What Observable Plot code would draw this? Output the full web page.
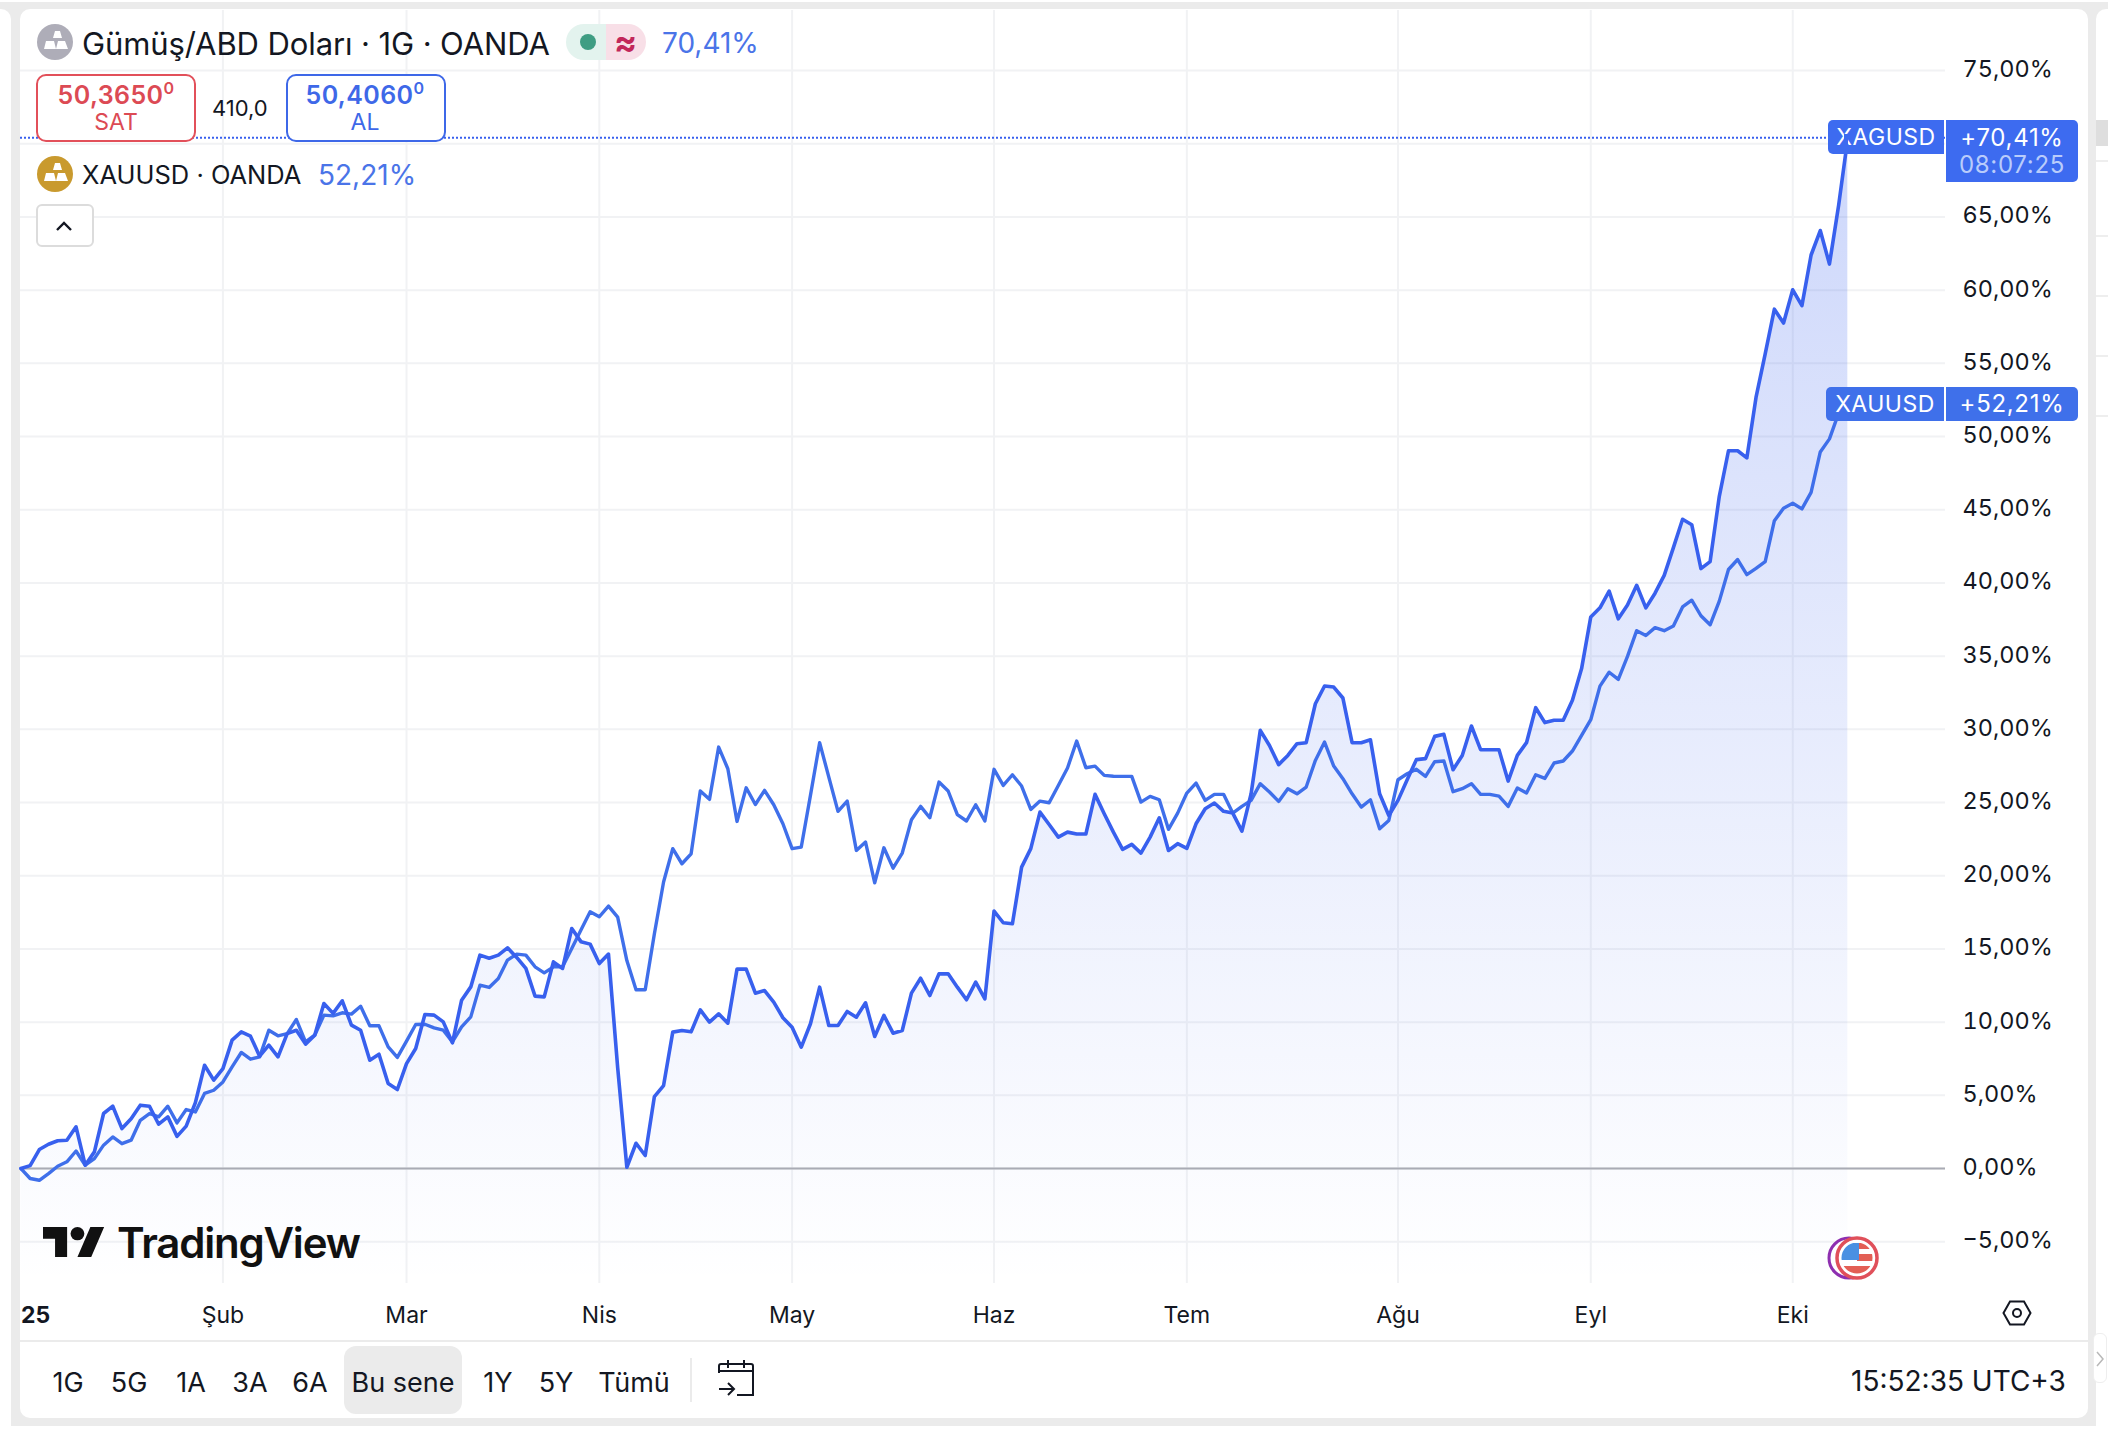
<!DOCTYPE html>
<html lang="tr">
<head>
<meta charset="utf-8">
<title>Gümüş/ABD Doları · XAUUSD</title>
<script src="https://cdn.jsdelivr.net/npm/d3@7"></script>
<script src="https://cdn.jsdelivr.net/npm/@observablehq/plot@0.6"></script>
<style>
html,body{margin:0;padding:0;width:2108px;height:1430px;overflow:hidden;background:#fff;font-family:Inter,"Noto Sans",sans-serif;color:#131722}
#page{position:relative;width:2108px;height:1430px;overflow:hidden}
.a{position:absolute;white-space:nowrap}
.t{position:absolute;white-space:nowrap;line-height:1;transform:translateY(-50%)}
#chart{position:absolute;left:0;top:0}
#chart svg{display:block}
.tag{position:absolute;background:#3d6bf0;color:#fff;white-space:nowrap;display:flex;align-items:center;justify-content:center;font-size:24px;letter-spacing:.7px}
.rng{position:absolute;transform:translate(-50%,-50%);line-height:1;font-size:27px;white-space:nowrap}
</style>
</head>
<body>
<div id="page">
  <div class="a" style="left:0;top:2px;width:2108px;height:1424px;background:#ebebeb"></div>
  <div class="a" style="left:0;top:9px;width:11px;height:1417px;background:#fff;border-radius:0 10px 0 0"></div>
  <div class="a" style="left:2096px;top:9px;width:12px;height:1417px;background:#fff;border-radius:10px 0 0 0"></div>
  <div class="a" style="left:2096px;top:120px;width:12px;height:26px;background:#dedede"></div>
  <div class="a" style="left:2096px;top:160px;width:12px;height:2px;background:#eeeeee"></div>
  <div class="a" style="left:2096px;top:235px;width:12px;height:2px;background:#eeeeee"></div>
  <div class="a" style="left:2096px;top:295px;width:12px;height:2px;background:#eeeeee"></div>
  <div class="a" style="left:2096px;top:355px;width:12px;height:2px;background:#eeeeee"></div>
  <div class="a" style="left:2096px;top:415px;width:12px;height:2px;background:#eeeeee"></div>
  <div class="a" style="left:20px;top:9px;width:2068px;height:1409px;background:#fff;border-radius:10px"></div>
  <div id="chart"></div>
  <div id="overlay"></div>
</div>
<script>
const seriesNames = ["XAGUSD", "XAUUSD"];
// Percentage change since the first bar of the year, one value per trading day
const silver = [0,0.2,1.3,1.66,1.9,1.93,2.85,0.23,1.14,3.76,4.26,2.73,3.4,4.33,4.26,3.03,3.53,2.2,2.9,4.5,
7.06,6.04,6.83,8.77,9.34,9.04,7.68,8.43,7.63,9.22,9.45,8.5,9.11,11.27,10.6,11.46,9.8,9.45,7.4,7.81,
5.81,5.4,7.17,8.2,10.52,10.48,10.02,8.59,11.5,12.41,14.58,14.37,14.58,15.08,14.42,13.67,11.78,11.73,14.12,13.67,
16.4,15.5,15.33,14.0,14.65,6.9,0.09,1.73,0.89,4.92,5.67,9.32,9.43,9.34,10.84,10.0,10.57,9.93,13.62,13.62,
11.98,12.16,11.37,10.3,9.66,8.29,9.89,12.39,9.77,9.77,10.73,10.34,11.32,9.02,10.46,9.25,9.43,11.98,13.0,11.82,
13.3,13.3,12.39,11.53,12.73,11.59,17.59,16.79,16.72,20.59,21.85,24.35,23.5,22.64,22.98,22.85,22.85,25.56,24.24,22.98,
21.8,22.14,21.55,22.64,23.96,21.73,22.19,21.87,23.55,24.58,24.97,24.4,24.28,23.05,25.6,29.93,28.9,27.59,28.22,29.02,
29.09,31.75,32.96,32.89,32.14,29.09,29.09,29.29,25.6,24.12,25.15,26.56,27.93,28.0,29.52,29.66,27.24,28.22,30.23,28.61,
28.61,28.61,26.47,28.22,29.09,31.48,30.46,30.62,30.62,31.98,34.15,37.68,38.3,39.44,37.55,38.49,39.84,38.3,39.3,40.52,
42.41,44.35,43.98,40.98,41.46,45.92,49.03,49.03,48.54,52.67,55.64,58.7,57.75,60.02,58.94,62.4,64.07,61.78,65.8,70.41];
const gold = [0,-0.68,-0.8,-0.34,0.16,0.46,1.2,0.23,0.68,1.6,2.16,1.7,1.94,3.3,3.76,3.53,4.26,3.12,4.03,3.87,
5.13,5.35,5.92,6.95,7.93,7.47,7.63,9.45,9.07,9.22,10.18,8.65,9.11,10.48,10.43,10.64,10.55,11.09,9.75,9.75,
8.31,7.59,8.7,9.84,9.86,9.61,9.45,8.65,9.68,10.36,12.53,12.37,12.98,14.24,14.65,14.58,13.78,13.37,13.78,13.78,
15.03,16.29,17.54,17.2,17.93,17.18,14.21,12.21,12.21,16.04,19.57,21.85,20.82,21.5,25.79,25.22,28.79,27.31,23.71,26.01,
24.87,25.83,24.85,23.55,21.85,21.96,25.49,29.09,26.74,24.4,25.1,21.73,22.3,19.52,21.91,20.52,21.55,23.83,24.74,23.96,
26.4,25.79,24.17,23.74,24.85,23.74,27.27,26.17,26.9,26.13,24.53,25.1,24.99,26.17,27.36,29.2,27.38,27.49,26.86,26.8,
26.79,26.79,25.03,25.42,25.19,23.17,24.28,25.65,26.33,25.15,25.56,25.56,24.28,24.74,25.15,26.29,25.72,25.08,25.95,25.6,
26.06,27.88,29.13,27.49,26.63,25.6,24.69,25.19,23.21,23.78,26.56,26.97,27.27,26.79,27.79,27.84,25.74,25.95,26.29,25.56,
25.56,25.44,24.74,25.99,25.65,26.9,26.65,27.7,27.84,28.52,29.59,30.66,32.95,33.9,33.41,34.98,36.74,36.41,36.95,36.74,
37.06,38.36,38.82,37.76,37.14,38.76,40.92,41.6,40.57,41.0,41.46,44.25,45.11,45.44,45.06,46.19,48.95,49.84,51.6,52.21];
const monthLabels = ["Şub","Mar","Nis","May","Haz","Tem","Ağu","Eyl","Eki"];
const monthBars = [22,42,63,84,106,127,150,171,193];
const yearLabel = ["25"];
const yTicks = [-5,0,5,10,15,20,25,30,35,40,45,50,55,60,65,70,75];
const yLabelled = yTicks.filter(d => d !== 70);

const pct = (v,d=2) => v.toFixed(d).replace(".", ",").replace("-", "−") + "%";
const signed = v => "+" + pct(v);
const silverLast = silver[silver.length-1], goldLast = gold[gold.length-1];
const bars = silver.map((_,i) => i);
const yBottom = -7.85;
const lineSilver = "#3860ee", lineGold = "#3f6fea", gridCol = "#f1f2f4";

function gradientDefs() {
  const defs = d3.create("svg:defs");
  const g = defs.append("linearGradient").attr("id","silverFill").attr("x1",0).attr("x2",0).attr("y1",0).attr("y2",1);
  g.append("stop").attr("offset","0%").attr("stop-color",lineSilver).attr("stop-opacity",.25);
  g.append("stop").attr("offset","100%").attr("stop-color",lineSilver).attr("stop-opacity",0);
  return defs.node();
}

const chart = Plot.plot({
  width: 2108, height: 1430,
  marginLeft: 20, marginRight: 163, marginTop: 10, marginBottom: 147,
  style: {background:"transparent", fontFamily:"Inter, 'Noto Sans', sans-serif", color:"#131722"},
  x: {type:"linear", domain:[-0.05, 209.64], label:null},
  y: {type:"linear", domain:[yBottom, 79.1], label:null},
  marks: [
    gradientDefs,
    Plot.ruleY(yTicks, {stroke:gridCol, strokeWidth:2}),
    Plot.ruleX(monthBars, {stroke:gridCol, strokeWidth:2}),
    Plot.areaY(bars, {x:d=>d, y1:()=>yBottom, y2:d=>silver[d], fill:"url(#silverFill)"}),
    Plot.ruleY([0], {stroke:"#a9abb4", strokeWidth:2}),
    Plot.ruleY([silverLast], {stroke:lineSilver, strokeWidth:2, strokeDasharray:"2 2"}),
    Plot.line(bars, {x:d=>d, y:d=>gold[d], stroke:lineGold, strokeWidth:3.4, strokeLinejoin:"round"}),
    Plot.line(bars, {x:d=>d, y:d=>silver[d], stroke:lineSilver, strokeWidth:3.6, strokeLinejoin:"round"}),
    Plot.axisY(yLabelled, {anchor:"right", tickSize:0, tickPadding:17, dy:-1, fontSize:23.5, tickFormat:d=>pct(d), label:null, fill:"#131722"}),
    Plot.axisX(monthBars, {anchor:"bottom", tickSize:0, tickPadding:22, dy:1.5, fontSize:23, tickFormat:d=>monthLabels[monthBars.indexOf(d)], label:null, fill:"#131722"}),
    Plot.text(yearLabel, {x:()=>0, y:()=>yBottom, text:d=>d, dy:32, textAnchor:"start", fontSize:23, fontWeight:700, fill:"#131722"})
  ]
});
document.getElementById("chart").appendChild(chart);

const yPx = v => chart.scale("y").apply(v);
const ySilver = yPx(silverLast), yGold = yPx(goldLast);
const barsIcon = `<svg viewBox="0 0 36 36" width="36" height="36"><path d="M18 7l5 0 2 7-9 0z M9 17h8l2 8H7z M21 17h7l3 8H19z" fill="#fff"/></svg>`;

document.getElementById("overlay").innerHTML = `
<div class="a" style="left:37px;top:24px;width:36px;height:36px;border-radius:50%;background:#aeadb8">${barsIcon}</div>
<div class="t" style="left:82px;top:43px;font-size:31px;letter-spacing:-.1px">Gümüş/ABD Doları · 1G · OANDA</div>
<div class="a" style="left:566px;top:24px;width:40px;height:36px;background:#e3f3ee;border-radius:18px 0 0 18px"></div>
<div class="a" style="left:606px;top:24px;width:40px;height:36px;background:#f8dfe7;border-radius:0 18px 18px 0"></div>
<div class="a" style="left:580px;top:34px;width:16px;height:16px;border-radius:50%;background:#3f9d83"></div>
<div class="t" style="left:614px;top:42px;font-size:34px;font-weight:700;color:#c2275a">≈</div>
<div class="t" style="left:662px;top:43px;font-size:28px;color:#4a74e8">${pct(silverLast)}</div>

<div class="a" style="left:36px;top:74px;width:156px;height:64px;border:2px solid #e2505a;border-radius:10px;background:#fff"></div>
<div class="t" style="left:116px;top:95px;transform:translate(-50%,-50%);font-size:25px;font-weight:600;letter-spacing:.4px;color:#dc4a54">50,3650<sup style="font-size:16px;line-height:0">0</sup></div>
<div class="t" style="left:116px;top:122px;transform:translate(-50%,-50%);font-size:23px;color:#dc4a54">SAT</div>
<div class="t" style="left:212px;top:108px;font-size:22px">410,0</div>
<div class="a" style="left:286px;top:74px;width:156px;height:64px;border:2px solid #3e68e8;border-radius:10px;background:#fff"></div>
<div class="t" style="left:365px;top:95px;transform:translate(-50%,-50%);font-size:25px;font-weight:600;letter-spacing:.4px;color:#3e68e8">50,4060<sup style="font-size:16px;line-height:0">0</sup></div>
<div class="t" style="left:365px;top:122px;transform:translate(-50%,-50%);font-size:23px;color:#3e68e8">AL</div>

<div class="a" style="left:37px;top:156px;width:36px;height:36px;border-radius:50%;background:#c99a2e">${barsIcon}</div>
<div class="t" style="left:82px;top:175px;font-size:25.5px">XAUUSD · OANDA</div>
<div class="t" style="left:318px;top:175px;font-size:28px;color:#4a74e8">${pct(goldLast)}</div>

<div class="a" style="left:36px;top:204px;width:54px;height:39px;border:2px solid #dcdcdc;border-radius:6px;background:#fff"></div>
<svg class="a" style="left:55px;top:220px" width="18" height="12" viewBox="0 0 18 12"><path d="M2 10l7-7 7 7" fill="none" stroke="#131722" stroke-width="2.4"/></svg>

<div class="tag" style="left:1828px;top:${ySilver-17}px;width:116px;height:34px;border-radius:5px 0 0 5px;font-size:23px;letter-spacing:.5px">${seriesNames[0]}</div>
<div class="a" style="left:1844px;top:${ySilver-3}px;width:4px;height:20px;background:#3d6bf0"></div>
<div class="tag" style="left:1946px;top:${ySilver-17}px;width:132px;height:62px;border-radius:0 5px 5px 0;flex-direction:column;line-height:27px">
  <span>${signed(silverLast)}</span><span style="color:#b9ccfb">08:07:25</span></div>
<div class="tag" style="left:1826px;top:${yGold-17}px;width:118px;height:34px;border-radius:5px 0 0 5px;background:#3f70ea;font-size:23px;letter-spacing:.5px">${seriesNames[1]}</div>
<div class="tag" style="left:1946px;top:${yGold-17}px;width:132px;height:34px;border-radius:0 5px 5px 0;background:#3f70ea">${signed(goldLast)}</div>

<svg class="a" style="left:43px;top:1227px" width="62" height="30" viewBox="0 0 36 18" preserveAspectRatio="none"><path d="M14 18H7V7H0V0h14zM28 18h-8l7.5-18h8z" fill="#111"/><circle cx="20" cy="4" r="4" fill="#111"/></svg>
<div class="t" style="left:117px;top:1243px;font-size:42px;font-weight:600;letter-spacing:-1.2px;color:#111">TradingView</div>

<svg class="a" style="left:1824px;top:1234px" width="60" height="48" viewBox="0 0 60 48">
  <circle cx="25" cy="24" r="20" fill="#fff" stroke="#8e2fb0" stroke-width="3"/>
  <circle cx="33" cy="24" r="20" fill="#fff" stroke="#e0505a" stroke-width="3.5"/>
  <clipPath id="flagClip"><circle cx="33" cy="24" r="15.5"/></clipPath>
  <g clip-path="url(#flagClip)">
    <rect x="33" y="9" width="16" height="6" fill="#e35f55"/>
    <rect x="33" y="20" width="16" height="7" fill="#e35f55"/>
    <rect x="17" y="32" width="32" height="8" fill="#e35f55"/>
    <rect x="17" y="9" width="18" height="17" fill="#4a90e2"/>
  </g>
</svg>

<svg class="a" style="left:2002px;top:1300px" width="30" height="26" viewBox="0 0 30 26"><path d="M8 1.5h14l6.5 11.5-6.5 11.5H8L1.5 13z" fill="none" stroke="#131722" stroke-width="2"/><circle cx="15" cy="13" r="4" fill="none" stroke="#131722" stroke-width="2"/></svg>

<div class="a" style="left:20px;top:1340px;width:2068px;height:2px;background:#ebebeb"></div>
<div class="a" style="left:344px;top:1346px;width:118px;height:68px;background:#ebebeb;border-radius:12px"></div>
<div class="rng" style="left:68px;top:1382px">1G</div>
<div class="rng" style="left:129px;top:1382px">5G</div>
<div class="rng" style="left:191px;top:1382px">1A</div>
<div class="rng" style="left:250px;top:1382px">3A</div>
<div class="rng" style="left:310px;top:1382px">6A</div>
<div class="rng" style="left:403px;top:1382px">Bu sene</div>
<div class="rng" style="left:498px;top:1382px">1Y</div>
<div class="rng" style="left:556px;top:1382px">5Y</div>
<div class="rng" style="left:634px;top:1382px">Tümü</div>
<div class="a" style="left:690px;top:1358px;width:2px;height:44px;background:#ebebeb"></div>
<svg class="a" style="left:717px;top:1359px" width="38" height="38" viewBox="0 0 38 38"><path d="M2 14V7a2 2 0 0 1 2-2h30a2 2 0 0 1 2 2v29H20M2 12h34M11 1v8M27 1v8M2 30h14M11 24l6 6-6 6" fill="none" stroke="#131722" stroke-width="2"/></svg>
<div class="t" style="left:1851px;top:1381px;font-size:28px">15:52:35 UTC+3</div>
<div class="a" style="left:2093px;top:1333px;width:14px;height:50px;background:#fff;border:1px solid #eee;border-radius:6px;box-sizing:border-box"></div>
<svg class="a" style="left:2096px;top:1351px" width="8" height="16" viewBox="0 0 8 16"><path d="M1 1l6 7-6 7" fill="none" stroke="#b8b8b8" stroke-width="1.5"/></svg>
`;
</script>
</body>
</html>
